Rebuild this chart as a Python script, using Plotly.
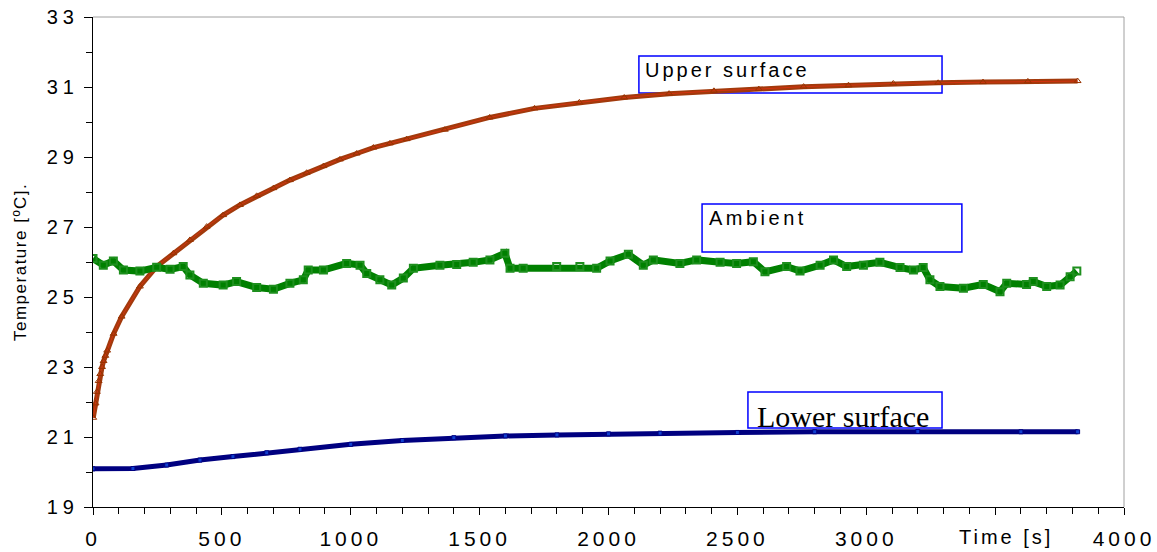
import plotly.graph_objects as go

# ---------------- data ----------------
upper_t = [1, 10, 15, 22, 28, 35, 41, 48, 55, 80, 111, 182, 247, 312, 376, 441, 505, 570,
           635, 700, 764, 829, 894, 958, 1023, 1088, 1152, 1217, 1365, 1539, 1713, 1887,
           2061, 2235, 2409, 2583, 2757, 2931, 3105, 3279, 3453, 3627, 3820]
upper_T = [21.55, 21.96, 22.29, 22.60, 22.80, 23.00, 23.17, 23.32, 23.47, 23.95, 24.44,
           25.30, 25.87, 26.25, 26.63, 27.01, 27.34, 27.63, 27.89, 28.11, 28.34, 28.55,
           28.74, 28.93, 29.10, 29.27, 29.39, 29.51, 29.78, 30.13, 30.39, 30.56, 30.70,
           30.81, 30.89, 30.94, 31.01, 31.05, 31.10, 31.12, 31.14, 31.16, 31.17]

amb_t = [0, 40, 79, 118, 182, 247, 299, 350, 376, 428, 505, 557, 635, 700, 764, 816, 835,
         894, 984, 1036, 1062, 1113, 1159, 1204, 1243, 1346, 1411, 1475, 1540, 1598, 1618,
         1669, 1799, 1889, 1954, 2006, 2077, 2135, 2174, 2277, 2342, 2433, 2497, 2562,
         2607, 2691, 2743, 2821, 2873, 2924, 2989, 3053, 3131, 3183, 3221, 3247, 3286,
         3377, 3454, 3519, 3545, 3622, 3648, 3700, 3752, 3791, 3817]
amb_T = [26.10, 25.91, 26.03, 25.77, 25.74, 25.85, 25.79, 25.87, 25.63, 25.39, 25.34,
         25.44, 25.27, 25.22, 25.39, 25.49, 25.77, 25.77, 25.96, 25.91, 25.67, 25.49,
         25.34, 25.54, 25.82, 25.91, 25.93, 25.99, 26.06, 26.25, 25.82, 25.82, 25.87,
         25.87, 25.82, 26.03, 26.22, 25.91, 26.06, 25.96, 26.06, 25.99, 25.96, 26.01,
         25.72, 25.87, 25.74, 25.91, 26.06, 25.87, 25.91, 25.99, 25.84, 25.77, 25.84,
         25.49, 25.30, 25.25, 25.36, 25.15, 25.39, 25.36, 25.44, 25.30, 25.34, 25.58, 25.74]

lower_t = [0, 155, 286, 415, 543, 674, 803, 1000, 1200, 1400, 1600, 1800, 2000, 2200,
           2500, 2800, 3200, 3600, 3820]
lower_T = [20.09, 20.10, 20.20, 20.34, 20.44, 20.55, 20.65, 20.79, 20.90, 20.98, 21.03,
           21.06, 21.09, 21.11, 21.13, 21.15, 21.16, 21.15, 21.15]

x_tick_vals = [0, 500, 1000, 1500, 2000, 2500, 3000, 3500, 4000]
x_tick_text = ["0", "500", "1000", "1500", "2000", "2500", "3000", "", "4000"]
y_tick_vals = [19, 21, 23, 25, 27, 29, 31, 33]
y_tick_text = ["19", "21", "23", "25", "27", "29", "31", "33"]

labels = {"upper": "Upper surface", "ambient": "Ambient", "lower": "Lower surface"}

FONT = "Liberation Sans, Arial, sans-serif"


def spaced(s, ls):
    return f"<span style='letter-spacing:{ls}px'>{s}</span>"


fig = go.Figure()

# Upper surface
fig.add_trace(go.Scatter(x=upper_t, y=upper_T, mode="lines",
                         line=dict(color="#A23A0C", width=5), hoverinfo="skip",
                         showlegend=False))
fig.add_trace(go.Scatter(x=upper_t, y=upper_T, mode="lines+markers", name=labels["upper"],
                         line=dict(color="#E03010", width=0.8),
                         marker=dict(symbol="triangle-up-open", size=6,
                                     color="#993300", line=dict(width=1)),
                         showlegend=False))
# Ambient
fig.add_trace(go.Scatter(x=amb_t, y=amb_T, mode="lines",
                         line=dict(color="#008000", width=7), hoverinfo="skip",
                         showlegend=False))
fig.add_trace(go.Scatter(x=amb_t, y=amb_T, mode="markers", name=labels["ambient"],
                         marker=dict(symbol="square-open", size=7, color="#1E8F1E",
                                     line=dict(width=2)),
                         showlegend=False))
# Lower surface
fig.add_trace(go.Scatter(x=lower_t, y=lower_T, mode="lines",
                         line=dict(color="#000080", width=5), hoverinfo="skip",
                         showlegend=False))
fig.add_trace(go.Scatter(x=lower_t, y=lower_T, mode="markers", name=labels["lower"],
                         marker=dict(symbol="square", size=4, color="#1040D0",
                                     line=dict(width=1, color="#000080")),
                         showlegend=False))

axis_common = dict(showgrid=False, zeroline=False, showline=True, linecolor="black",
                   linewidth=1, ticks="outside", tickcolor="black", tickwidth=1,
                   automargin=False)

fig.update_xaxes(range=[0, 4000], tickmode="array", tickvals=x_tick_vals,
                 ticktext=[spaced(t, 4) for t in x_tick_text], ticklen=7,
                 tickfont=dict(family=FONT, size=21, color="black"),
                 ticklabelstandoff=6,
                 minor=dict(dtick=100, ticklen=6, ticks="outside", tickcolor="black"),
                 **axis_common)
fig.update_yaxes(range=[19, 33], tickmode="array", tickvals=y_tick_vals,
                 ticktext=[spaced(t, 5) for t in y_tick_text], ticklen=8,
                 tickfont=dict(family=FONT, size=20, color="black"),
                 ticklabelstandoff=1,
                 minor=dict(dtick=1, ticklen=6, ticks="outside", tickcolor="black"),
                 **axis_common)

shapes = [
    # plot frame top & right (gray)
    dict(type="line", xref="paper", yref="paper", x0=0, x1=1, y0=1, y1=1,
         line=dict(color="#A0A0A0", width=1)),
    dict(type="line", xref="paper", yref="paper", x0=1, x1=1, y0=0, y1=1,
         line=dict(color="#A0A0A0", width=1)),
    # label boxes
    dict(type="rect", xref="x", yref="y", x0=2118, x1=3294, y0=30.829, y1=31.886,
         line=dict(color="#0000FF", width=1.5), layer="below"),
    dict(type="rect", xref="x", yref="y", x0=2363, x1=3371, y0=26.286, y1=27.657,
         line=dict(color="#0000FF", width=1.5), layer="below"),
    dict(type="rect", xref="x", yref="y", x0=2541, x1=3294, y0=21.257, y1=22.286,
         line=dict(color="#0000FF", width=1.5), layer="below"),
]

annotations = [
    dict(text=spaced(labels["upper"], 3), x=2134, y=31.486, xref="x", yref="y",
         xanchor="left", yanchor="middle", showarrow=False,
         font=dict(family=FONT, size=20, color="black")),
    dict(text=spaced(labels["ambient"], 3.5), x=2384, y=27.249, xref="x", yref="y",
         xanchor="left", yanchor="middle", showarrow=False,
         font=dict(family=FONT, size=20, color="black")),
    dict(text=labels["lower"], x=2568, y=21.6, xref="x", yref="y",
         xanchor="left", yanchor="middle", showarrow=False,
         font=dict(family="Liberation Serif, Times New Roman, serif", size=30, color="black")),
    dict(text=spaced("Time [s]", 3), x=3542, y=0, xref="x", yref="paper",
         yshift=-30, xanchor="center", yanchor="middle", showarrow=False,
         font=dict(family=FONT, size=20, color="black")),
    dict(text=spaced("Temperature [ºC].", 1.5), x=0, y=0.5, xref="paper", yref="paper",
         xshift=-73, xanchor="center", yanchor="middle", textangle=-90, showarrow=False,
         font=dict(family=FONT, size=17, color="black")),
]

fig.update_layout(width=1157, height=552, margin=dict(l=93, r=33, t=17, b=45),
                  plot_bgcolor="white", paper_bgcolor="white", showlegend=False,
                  font=dict(family=FONT, color="black"),
                  shapes=shapes, annotations=annotations)

fig.write_html("out.html", config={"displayModeBar": False},
               post_script="document.body.style.margin='0';document.body.style.overflow='hidden';")
